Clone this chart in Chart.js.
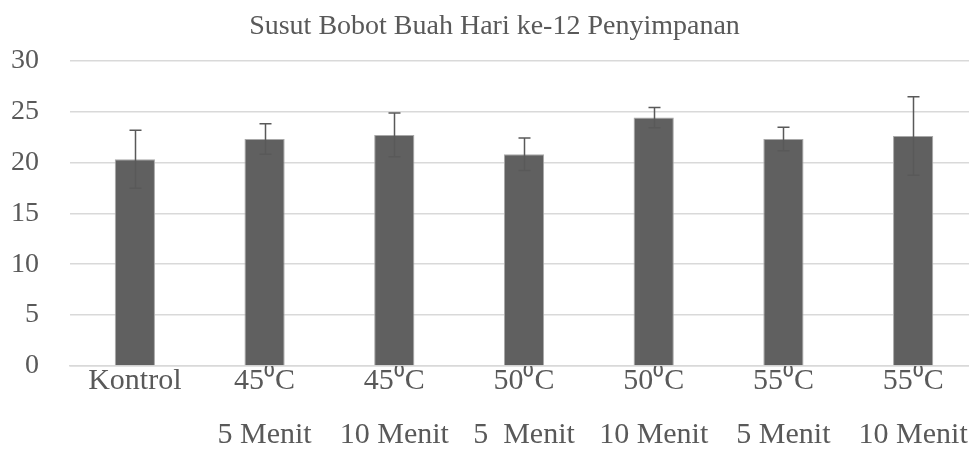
<!DOCTYPE html>
<html>
<head>
<meta charset="utf-8">
<script src="https://cdn.jsdelivr.net/npm/chart.js@4"></script>
<style>
  html, body { margin: 0; padding: 0; background: #fff; overflow: hidden; }
  #wrap { width: 978px; height: 460px; }
</style>
</head>
<body>
<div id="wrap"><canvas id="barChart"></canvas></div>
<script>
var LABELS = [
    ["Kontrol"],
    ["45\u2070C", "5 Menit"],
    ["45\u2070C", "10 Menit"],
    ["50\u2070C", "5  Menit"],
    ["50\u2070C", "10 Menit"],
    ["55\u2070C", "5 Menit"],
    ["55\u2070C", "10 Menit"]
];
var SUSUT = [20.3, 22.3, 22.7, 20.8, 24.4, 22.3, 22.6];
var GALAT = [2.85, 1.5, 2.15, 1.6, 1.0, 1.15, 3.85];
var Y_TICKS = [0, 5, 10, 15, 20, 25, 30];

var TEXT = "#595959",
    FONT = "'Liberation Serif', 'Times New Roman', serif";

// garis galat (error bar) di atas tiap batang
var errorBars = {
    id: "errorBars",
    afterDatasetsDraw: function (chart) {
        var ctx = chart.ctx,
            y = chart.scales.y,
            meta = chart.getDatasetMeta(0);
        ctx.save();
        ctx.strokeStyle = "#595959";
        ctx.lineWidth = 1.5;
        meta.data.forEach(function (bar, i) {
            var top = y.getPixelForValue(SUSUT[i] + GALAT[i]),
                bot = y.getPixelForValue(SUSUT[i] - GALAT[i]),
                x = Math.round(bar.x) + 0.5;
            ctx.beginPath();
            ctx.moveTo(x, top); ctx.lineTo(x, bot);
            ctx.moveTo(x - 6, top); ctx.lineTo(x + 6, top);
            ctx.moveTo(x - 6, bot); ctx.lineTo(x + 6, bot);
            ctx.stroke();
        });
        ctx.restore();
    }
};

var ctx = document.getElementById("barChart").getContext("2d");
var chart = new Chart(ctx, {
    type: "bar",
    data: {
        labels: LABELS,
        datasets: [{
            data: SUSUT,
            backgroundColor: "#606060",
            borderColor: "#a8a8a8",
            borderWidth: 1,
            categoryPercentage: 1,
            barPercentage: 0.31
        }]
    },
    options: {
        responsive: true,
        maintainAspectRatio: false,
        animation: false,
        layout: { padding: { left: 11, right: 0, top: 0, bottom: 10 } },
        plugins: {
            legend: { display: false },
            tooltip: { enabled: false },
            title: {
                display: true,
                text: "Susut Bobot Buah Hari ke-12 Penyimpanan",
                color: TEXT,
                font: { family: FONT, size: 28, weight: "normal", lineHeight: 1.2 },
                padding: { top: 10, bottom: 17 }
            }
        },
        scales: {
            x: {
                grid: { display: false, drawTicks: false },
                border: { display: true, color: "#d9d9d9", width: 1.5 },
                ticks: {
                    color: TEXT,
                    padding: -12,
                    maxRotation: 0,
                    autoSkip: false,
                    font: { family: FONT, size: 30, lineHeight: 1.8 }
                }
            },
            y: {
                min: 0,
                max: 30,
                afterBuildTicks: function (axis) {
                    axis.ticks = Y_TICKS.map(function (v) { return { value: v }; });
                },
                afterFit: function (axis) { axis.width = 59; },
                grid: { color: "#d9d9d9", lineWidth: 1.5, drawTicks: false },
                border: { display: false },
                ticks: {
                    color: TEXT,
                    padding: 31,
                    font: { family: FONT, size: 28 }
                }
            }
        }
    },
    plugins: [errorBars]
});
</script>
</body>
</html>
